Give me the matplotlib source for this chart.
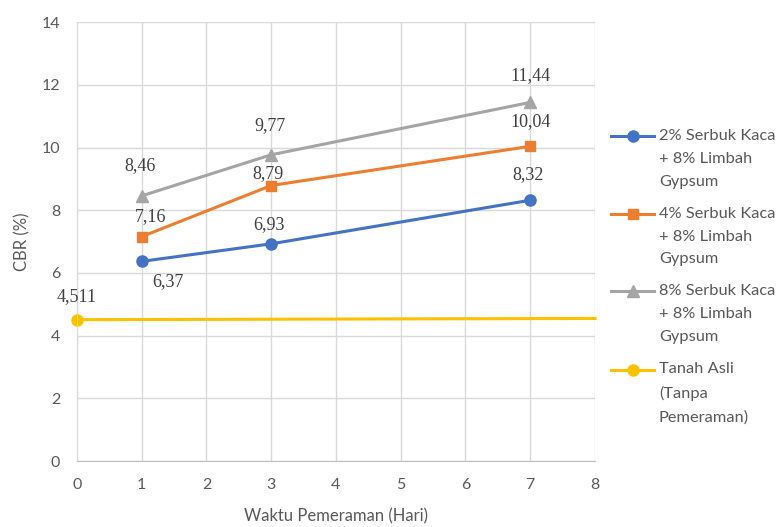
import matplotlib
matplotlib.use('Agg')
import matplotlib.pyplot as plt
from matplotlib.legend_handler import HandlerLine2D

# waktu pemeraman (hari)
days = [1, 3, 7]
cbr_2 = [6.37, 6.93, 8.32]
cbr_4 = [7.16, 8.79, 10.04]
cbr_8 = [8.46, 9.77, 11.44]
asli_x = [0, 8]
asli_y = [4.511, 4.55]

lbl_2 = ['6,37', '6,93', '8,32']
lbl_4 = ['7,16', '8,79', '10,04']
lbl_8 = ['8,46', '9,77', '11,44']

# label offsets in pixels (dx, dy)
off_2 = [(26, -20), (-2, 19), (-2, 26)]
off_4 = [(9, 20), (-3, 12), (0, 25)]
off_8 = [(-2, 30), (-1, 29), (0, 27)]

plt.rcParams['font.family'] = ['Lato', 'DejaVu Sans']


# legend handle sits on the first text line, like excel does
class TopLine(HandlerLine2D):
    def __init__(self, shift, **kw):
        super().__init__(**kw)
        self.shift = shift

    def create_artists(self, legend, orig_handle, xdescent, ydescent, width, height, fontsize, trans):
        return super().create_artists(legend, orig_handle, xdescent, ydescent - 2 * self.shift,
                                      width, height, fontsize, trans)


fig = plt.figure(figsize=(7.79, 5.27), dpi=100)
ax = fig.add_axes([0.0988, 0.125, 0.665, 0.833])

l2, = ax.plot(days, cbr_2, color='#4472C4', marker='o', ms=8, lw=2.2, label='2% Serbuk Kaca\n+ 8% Limbah\nGypsum')
l4, = ax.plot(days, cbr_4, color='#ED7D31', marker='s', ms=7, lw=2.2, label='4% Serbuk Kaca\n+ 8% Limbah\nGypsum')
l8, = ax.plot(days, cbr_8, color='#A5A5A5', marker='^', ms=9, lw=2.2, label='8% Serbuk Kaca\n+ 8% Limbah\nGypsum')
la, = ax.plot(asli_x, asli_y, color='#FFC000', marker='o', ms=8, lw=2.2, markevery=[0],
              label='Tanah Asli\n(Tanpa\nPemeraman)', clip_on=False)

serif = dict(family='Liberation Serif', fontsize=13, color='#404040', ha='center', va='center',
             textcoords='offset pixels')
for xs, ys, ts, offs in [(days, cbr_2, lbl_2, off_2), (days, cbr_4, lbl_4, off_4),
                         (days, cbr_8, lbl_8, off_8)]:
    for x, y, t, o in zip(xs, ys, ts, offs):
        ax.annotate(t, (x, y), xytext=o, **serif)
ax.annotate('4,511', (0, asli_y[0]), xytext=(0, 23), **serif)

ax.set_xlim(0, 8)
ax.set_ylim(0, 14)
ax.set_xticks(range(0, 9))
ax.set_yticks(range(0, 15, 2))
ax.grid(True, color='#D9D9D9', lw=1)
ax.set_axisbelow(True)
for s in ax.spines.values():
    s.set_visible(False)
ax.spines['left'].set_visible(True)
ax.spines['bottom'].set_visible(True)
ax.spines['left'].set_color('#D9D9D9')
ax.spines['bottom'].set_color('#BFBFBF')
ax.tick_params(length=0, labelsize=11.5, colors='#595959', pad=12)

ax.set_xlabel('Waktu Pemeraman (Hari)', fontsize=12, color='#595959', labelpad=12)
ax.set_ylabel('CBR (%)', fontsize=12, color='#595959', labelpad=8)

sh = 16.5
leg = ax.legend(handles=[l2, l4, l8, la], loc='center left', bbox_to_anchor=(1.0, 0.42),
                frameon=False, fontsize=11.8, labelcolor='#595959', handlelength=2.6,
                handletextpad=0.3, labelspacing=1.1, borderaxespad=0.6,
                handler_map={l: TopLine(sh) for l in [l2, l4, l8, la]})
for t in leg.get_texts():
    t.set_linespacing(1.8)

fig.savefig('out.png', dpi=100)
